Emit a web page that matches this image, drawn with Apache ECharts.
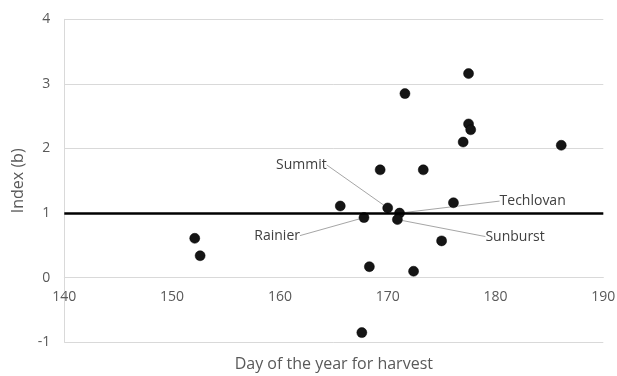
<!DOCTYPE html>
<html>
<head>
<meta charset="utf-8">
<script src="https://cdn.jsdelivr.net/npm/echarts@6/dist/echarts.min.js"></script>
<style>
html,body{margin:0;padding:0;background:#fff;}
#chart{width:617px;height:376px;}
</style>
</head>
<body>
<div id="chart"></div>
<script>
// Data
var harvestDay = [152.1, 152.6, 165.6, 167.8, 170.0, 171.1, 170.9, 176.1, 175.0, 168.3, 172.4, 177.5, 171.6, 177.5, 177.7, 177.0, 169.3, 173.3, 186.1, 167.6];
var indexB     = [0.61, 0.34, 1.11, 0.93, 1.08, 1.00, 0.90, 1.16, 0.57, 0.17, 0.10, 3.16, 2.85, 2.38, 2.29, 2.10, 1.67, 1.67, 2.05, -0.85];
var pointNames = ['', '', '', 'Rainier', 'Summit', 'Techlovan', 'Sunburst', '', '', '', '', '', '', '', '', '', '', '', '', ''];
var xTicks = [140, 150, 160, 170, 180, 190];
var yTicks = [-1, 0, 1, 2, 3, 4];
var referenceLevel = 1;

// label placement (style, not data): offset of label anchor from point centre
var labelPlacement = {
  'Summit':    {dx: -61, dy: -43, align: 'right'},
  'Techlovan': {dx: 100, dy: -12, align: 'left'},
  'Rainier':   {dx: -64, dy: 18, align: 'right'},
  'Sunburst':  {dx: 88,  dy: 17, align: 'left'}
};

var FONT = 'Open Sans';
var GRID_H = 376 - 19.3 - 33.7;
// place the x axis where y = 0 (the axis crosses at zero)
var xAxisOffset = -GRID_H * (0 - yTicks[0]) / (yTicks[yTicks.length - 1] - yTicks[0]);

var points = harvestDay.map(function (d, i) {
  var item = {value: [d, indexB[i]], name: pointNames[i]};
  if (pointNames[i]) {
    item.label = {show: true};
    item.labelLine = {show: true};
  }
  return item;
});

var chart = echarts.init(document.getElementById('chart'), null, {renderer: 'canvas'});
chart.setOption({
  backgroundColor: '#fff',
  animation: false,
  grid: {left: 64.3, right: 13.7, top: 19.3, bottom: 33.7, containLabel: false, outerBoundsMode: 'none'},
  xAxis: {
    type: 'value',
    min: xTicks[0], max: xTicks[xTicks.length - 1], interval: 10,
    offset: xAxisOffset,
    axisLine: {show: true, onZero: false, lineStyle: {color: '#d9d9d9', width: 1}},
    axisTick: {show: false},
    splitLine: {show: false},
    axisLabel: {color: '#595959', fontSize: 14, fontFamily: FONT, margin: 12},
    name: 'Day of the year for harvest',
    nameLocation: 'middle',
    nameGap: 79,
    nameTextStyle: {color: '#595959', fontSize: 16, fontFamily: FONT}
  },
  yAxis: {
    type: 'value',
    min: yTicks[0], max: yTicks[yTicks.length - 1], interval: 1,
    axisLine: {show: true, onZero: false, lineStyle: {color: '#d9d9d9', width: 1}},
    axisTick: {show: false},
    splitLine: {show: true, lineStyle: {color: '#d9d9d9', width: 1}},
    axisLabel: {color: '#595959', fontSize: 14, fontFamily: FONT, margin: 14},
    name: 'Index (b)',
    nameLocation: 'middle',
    nameGap: 36,
    nameTextStyle: {color: '#595959', fontSize: 16, fontFamily: FONT}
  },
  series: [{
    type: 'scatter',
    data: points,
    symbol: 'circle',
    symbolSize: 10,
    itemStyle: {color: '#151515', borderColor: '#000', borderWidth: 0.5, opacity: 1},
    label: {
      show: false,
      formatter: '{b}',
      color: '#404040',
      fontSize: 14,
      fontFamily: FONT
    },
    labelLine: {show: false, lineStyle: {color: '#a6a6a6', width: 1}},
    labelLayout: function (p) {
      var nm = pointNames[p.dataIndex];
      var pl = labelPlacement[nm];
      if (!pl) return {};
      var cx = p.rect.x + p.rect.width / 2;
      var cy = p.rect.y + p.rect.height / 2;
      return {x: cx + pl.dx, y: cy + pl.dy, align: pl.align, verticalAlign: 'middle'};
    },
    markLine: {
      silent: true,
      symbol: ['none', 'none'],
      label: {show: false},
      lineStyle: {color: '#000', width: 2.5, type: 'solid'},
      data: [{yAxis: referenceLevel}]
    },
    z: 3
  }]
});
</script>
</body>
</html>
